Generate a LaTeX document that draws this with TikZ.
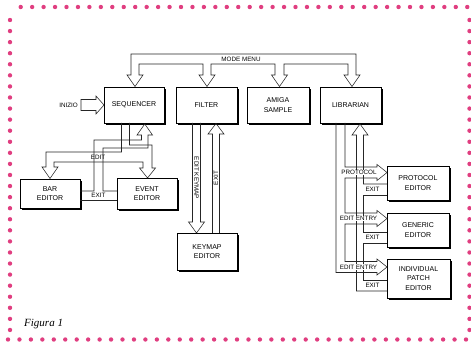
\documentclass[tikz,border=0pt]{standalone}
\usepackage{fontspec}
\setmainfont{Liberation Sans}
\newfontfamily\serifit{Liberation Serif}
\usetikzlibrary{shadows}
\definecolor{dotpink}{RGB}{224,62,128}
\begin{document}
\begin{tikzpicture}[x=1pt,y=-1pt,
  ch/.style={draw=black!85, line width=0.55pt, line join=miter},
  box/.style={draw=black, line width=0.8pt, fill=white, inner sep=0pt, align=center,
    font=\fontsize{7}{9.5}\selectfont,
    drop shadow={shadow xshift=2.2pt, shadow yshift=-2.4pt, opacity=1, fill=black}},
  lab/.style={font=\fontsize{6.3}{7}\selectfont, inner sep=0.5pt},
  labw/.style={lab, fill=white}]
\useasboundingbox (0,0) rectangle (471,347);

% pink dotted frame
\foreach \i in {0,...,39} \fill[dotpink] (20.7+11.45*\i,7) circle (2.2pt);
\foreach \i in {0,...,40} \fill[dotpink] (8+11.45*\i,339.5) circle (2.2pt);
\foreach \i in {0,...,28} \fill[dotpink] (10,20+11.07*\i) circle (2.2pt);
\foreach \i in {0,...,28} \fill[dotpink] (469.5,20+11.07*\i) circle (2.2pt);

% boxes
\node[box, minimum width=60pt, minimum height=36pt] (seq) at (134,105) {SEQUENCER};
\node[box, minimum width=61pt, minimum height=36pt] (fil) at (206.5,105) {FILTER};
\node[box, minimum width=62pt, minimum height=36pt] (ami) at (278,105) {AMIGA\\SAMPLE};
\node[box, minimum width=61pt, minimum height=36pt] (lib) at (350.5,105) {LIBRARIAN};
\node[box, minimum width=60pt, minimum height=29pt] (bar) at (50,193.5) {BAR\\EDITOR};
\node[box, minimum width=60pt, minimum height=31pt] (eve) at (147,193.5) {EVENT\\EDITOR};
\node[box, minimum width=60pt, minimum height=37pt] (key) at (207,251.5) {KEYMAP\\EDITOR};
\node[box, minimum width=62pt, minimum height=34pt] (pro) at (418,183) {PROTOCOL\\EDITOR};
\node[box, minimum width=62pt, minimum height=34pt] (gen) at (418,230) {GENERIC\\EDITOR};
\node[box, minimum width=63pt, minimum height=39pt] (ind) at (418.5,278.5) {INDIVIDUAL\\PATCH\\EDITOR};

% MODE MENU channel
\draw[ch] (356,75) -- (356,54) -- (131,54) -- (131,75) -- (127,75) -- (135,86.5) -- (143,75) -- (139,75)
  -- (139,64) -- (203,64) -- (203,75) -- (199,75) -- (207,86.5) -- (215,75) -- (211,75)
  -- (211,64) -- (275,64) -- (275,75) -- (271.5,75) -- (279.5,86.5) -- (287.5,75) -- (284,75)
  -- (284,64) -- (348,64) -- (348,75) -- (344,75) -- (352,86.5) -- (360,75) -- cycle;
\node[lab] (mm) at (241,59) {MODE MENU};

% INIZIO
\draw[ch] (81,99.5) -- (96,99.5) -- (96,96) -- (104,105) -- (96,114) -- (96,110.5) -- (81,110.5) -- cycle;
\node[lab, anchor=east] (iniz) at (78.5,105) {INIZIO};

% EDIT from sequencer
\draw[ch] (121.5,123) -- (121.5,152) -- (46,152) -- (46,167) -- (42,167) -- (50,178.5) -- (58,167) -- (54,167)
  -- (54,162) -- (143,162) -- (143,168) -- (139.5,168) -- (147.5,178) -- (155.5,168) -- (152,168)
  -- (152,145) -- (129.5,145) -- (129.5,123);
\node[lab] (edl) at (98,157) {EDIT};

% EXIT to sequencer
\draw[ch] (80,191) -- (94,191) -- (94,140) -- (141.5,140) -- (141.5,135) -- (137,135) -- (144.75,124)
  -- (152.5,135) -- (148,135) -- (148,148) -- (103,148) -- (103,191) -- (117,191);
\draw[ch] (80,200) -- (117,200);
\node[lab] (exl) at (98.5,195.5) {EXIT};

% FILTER <-> KEYMAP
\draw[ch] (192.5,123) -- (192.5,222) -- (188.5,222) -- (196.5,233) -- (204.5,222) -- (200.5,222) -- (200.5,123);
\draw[ch] (212.5,233) -- (212.5,134) -- (208,134) -- (216,123.5) -- (224,134) -- (219.5,134) -- (219.5,233);
\node[lab, rotate=-90] (ekl) at (196.5,178) {EDIT KEYMAP};
\node[lab, rotate=90] (fxl) at (216,178) {EXIT};

% LIBRARIAN -> editors
\draw[ch] (336,123) -- (336,272.5) -- (377,272.5) -- (377,275) -- (387,267) -- (377,259) -- (377,261.5)
  -- (345,261.5) -- (345,224) -- (377,224) -- (377,226.5) -- (387,218.5) -- (377,210.5) -- (377,213)
  -- (345,213) -- (345,178) -- (377,178) -- (377,180.5) -- (387,172.5) -- (377,164.5) -- (377,167)
  -- (345,167) -- (345,123);
% editors -> LIBRARIAN
\draw[ch] (387,291) -- (356.5,291) -- (356.5,135) -- (352,135) -- (360,124) -- (368,135) -- (363.5,135)
  -- (363.5,184) -- (387,184);
\draw[ch] (387,195) -- (363.5,195) -- (363.5,232) -- (387,232);
\draw[ch] (387,243) -- (363.5,243) -- (363.5,280) -- (387,280);

\node[labw] (pl) at (359,172.5) {PROTOCOL};
\node[labw] (e1) at (358.5,218.5) {EDIT ENTRY};
\node[labw] (e2) at (358.5,267) {EDIT ENTRY};
\node[lab] (x1) at (372.5,189.5) {EXIT};
\node[lab] (x2) at (372.5,237.5) {EXIT};
\node[lab] (x3) at (372.5,285.5) {EXIT};

\node[anchor=west, font=\serifit\itshape\fontsize{11}{12}\selectfont, inner sep=0pt] (fig) at (24,324) {Figura 1};
\end{tikzpicture}
\end{document}
